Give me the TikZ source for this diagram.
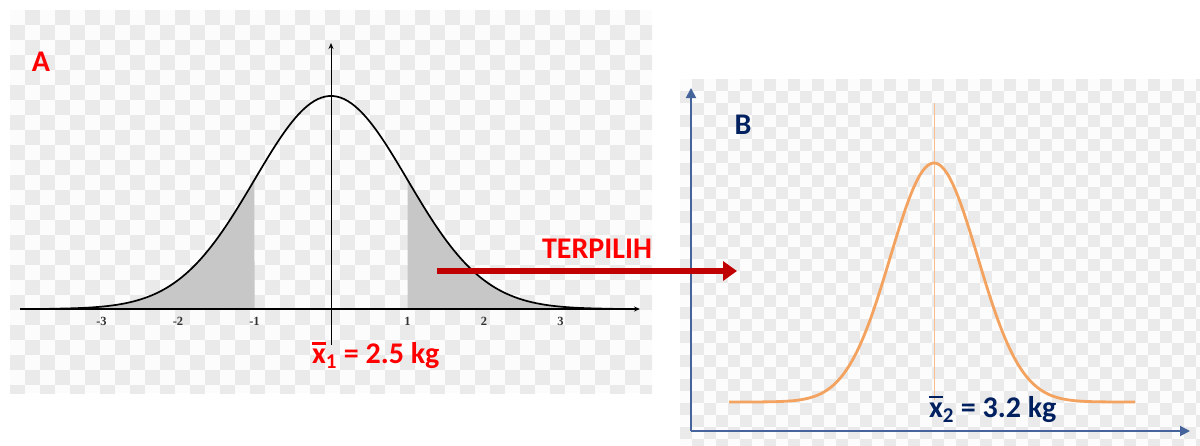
\documentclass[tikz,border=0pt]{standalone}
\usepackage{fontspec}
\setmainfont{Carlito}
\newfontfamily\tickfont{Liberation Serif}
\usetikzlibrary{arrows.meta}
\definecolor{chkgray}{RGB}{234,234,234}
\definecolor{chkwhite}{RGB}{252,252,252}
\definecolor{arrowred}{RGB}{192,0,0}
\definecolor{labred}{RGB}{255,0,0}
\definecolor{navy}{RGB}{0,32,96}
\definecolor{axisblue}{RGB}{68,100,155}
\definecolor{curveorange}{RGB}{243,163,95}
\newcommand{\barx}{\makebox[0pt][l]{\rule[0.62em]{0.47em}{0.09em}}x}
\begin{document}
\begin{tikzpicture}[x=1pt, y=-1pt,
		panellabel/.style={font=\fontsize{30}{32}\selectfont\bfseries},
		meanlabel/.style={font=\fontsize{30}{32}\selectfont\bfseries, anchor=west, inner sep=0pt},
		ticklabel/.style={font=\tickfont\fontsize{12.5}{13}\selectfont\bfseries, text=black!80},
		axisA/.style={line width=1.4pt, -{Stealth[length=6pt, width=5pt]}}]
	\useasboundingbox (0,0) rectangle (1200,445);
	% chequered backgrounds
	\fill[chkwhite] (10,10) rectangle (652,393);
	\begin{scope}
		\clip (10,10) rectangle (652,393);
		\foreach \i in {0,...,42}{
			\foreach \j in {0,...,25}{
				\pgfmathtruncatemacro\k{mod(\i+\j,2)}
				\ifnum\k=1 \fill[chkgray] ({10+15*\i},{10+15*\j}) rectangle +(15,15); \fi
			}
		}
	\end{scope}
	\fill[chkwhite] (680,79) rectangle (1200,445);
	\begin{scope}
		\clip (680,79) rectangle (1200,445);
		\foreach \i in {0,...,43}{
			\foreach \j in {0,...,30}{
				\pgfmathtruncatemacro\k{mod(\i+\j,2)}
				\ifnum\k=1 \fill[chkgray] ({680+12*\i},{79+12*\j}) rectangle +(12,12); \fi
			}
		}
	\end{scope}
	% panel A
	\fill[black!22] (331-283,309) -- plot[domain=-3.7:-1, samples=60] ({331+76.5*\x},{309-213*exp(-\x*\x/2)}) -- (331-76.5,309) -- cycle;
	\fill[black!22] (331+76.5,309) -- plot[domain=1:3.7, samples=60] ({331+76.5*\x},{309-213*exp(-\x*\x/2)}) -- (331+283,309) -- cycle;
	\coordinate (axAleft) at (20,309);
	\coordinate (axAright) at (640,309);
	\coordinate (axAbottom) at (331,345);
	\coordinate (axAtop) at (331,43);
	\draw[axisA] (axAleft) -- (axAright);
	\draw[line width=0.9pt, -{Stealth[length=6pt, width=5pt]}] (axAbottom) -- (axAtop);
	\draw[line width=1.7pt] plot[domain=-3.68:3.68, samples=150] ({331+76.5*\x},{309-213*exp(-\x*\x/2)});
	\foreach \t in {-3,-2,-1,1,2,3}
		\node[ticklabel] (tickA\t) at ({331+76.5*\t},321) {\t};
	\node[panellabel, text=labred] (labA) at (41,62) {A};
	\node[meanlabel, text=labred] (meanA) at (312,355) {\barx\textsubscript{1} = 2.5 kg};
	% panel B
	\coordinate (axBorigin) at (691,431);
	\coordinate (axBtop) at (691,88);
	\coordinate (axBright) at (1190,431);
	\draw[axisblue, line width=1.8pt, -{Triangle[length=10pt, width=10pt]}] (axBorigin) -- (axBtop);
	\draw[axisblue, line width=1.8pt, -{Triangle[length=10pt, width=10pt]}] (axBorigin) -- (axBright);
	\coordinate (meanBtop) at (934,103);
	\coordinate (meanBbottom) at (934,400);
	\draw[curveorange!70, line width=0.7pt] (meanBtop) -- (meanBbottom);
	\draw[curveorange, line width=2.8pt] plot[domain=729:1135, samples=150] (\x,{402-239*exp(-((\x-934)/43.7)^2/2)});
	\node[panellabel, text=navy] (labB) at (743,125) {B};
	\node[meanlabel, text=navy] (meanB) at (929,409) {\barx\textsubscript{2} = 3.2 kg};
	% selection arrow
	\coordinate (selstart) at (437,271);
	\coordinate (selend) at (737,271);
	\draw[arrowred, line width=5.5pt, -{Triangle[length=14pt, width=19pt]}] (selstart) -- (selend);
	\node[panellabel, text=labred] (terpilih) at (597,249) {TERPILIH};
\end{tikzpicture}
\end{document}
